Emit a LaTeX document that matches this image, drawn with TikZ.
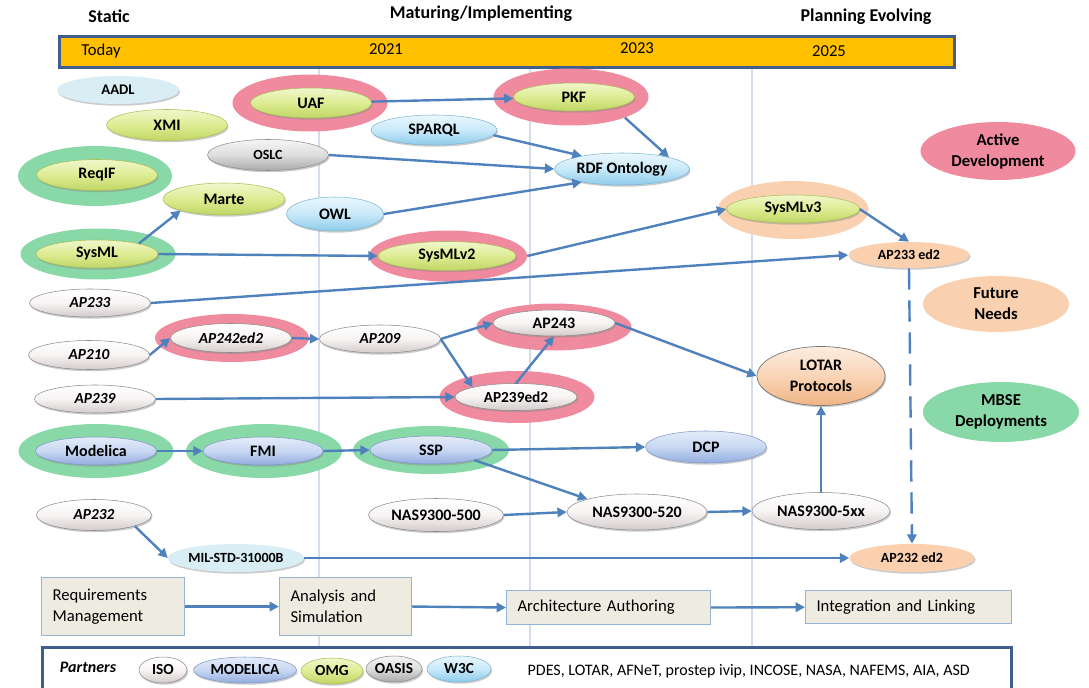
\documentclass[tikz,border=0pt]{standalone}
\usepackage{fontspec}
\setmainfont{Carlito}
\usetikzlibrary{shapes.geometric,arrows.meta,shadows}
\definecolor{arrowblue}{HTML}{4F81BD}
\definecolor{barfill}{HTML}{FFC000}
\definecolor{frameblue}{HTML}{3F5E8E}
\definecolor{gridc}{HTML}{D5DDEC}
\definecolor{pinkH}{HTML}{F08A9E}
\definecolor{greenH}{HTML}{88D8A8}
\definecolor{peachH}{HTML}{F9D1B1}
\definecolor{ygT}{HTML}{F0F7CC}
\definecolor{ygM}{HTML}{DDEC92}
\definecolor{ygB}{HTML}{C0D665}
\definecolor{blT}{HTML}{E4ECF9}
\definecolor{blM}{HTML}{C8D7F2}
\definecolor{blB}{HTML}{93ACDF}
\definecolor{lbT}{HTML}{EAF7FD}
\definecolor{lbM}{HTML}{C8E9F9}
\definecolor{lbB}{HTML}{8DCBEA}
\definecolor{grT}{HTML}{F5F5F5}
\definecolor{grM}{HTML}{DDDDDD}
\definecolor{grB}{HTML}{A9A9A9}
\definecolor{whT}{HTML}{FFFFFF}
\definecolor{whM}{HTML}{F7F3F3}
\definecolor{whB}{HTML}{D3CBCB}
\definecolor{peT}{HTML}{FDEDE0}
\definecolor{peM}{HTML}{F9D4B6}
\definecolor{peB}{HTML}{EFB585}
\definecolor{flatblue}{HTML}{D8EDF4}
\definecolor{flatpeach}{HTML}{FAD0AF}
\definecolor{boxfill}{HTML}{EEECE1}
\definecolor{boxline}{HTML}{95B3D7}
\definecolor{ygD}{HTML}{A9BF55}
\definecolor{blD}{HTML}{7F98C8}
\definecolor{lbD}{HTML}{7DB5D3}
\definecolor{grD}{HTML}{8C8C8C}
\newlength\px
\setlength\px{0.75pt}
\newcommand\fB{\bfseries\fontsize{12}{12}\selectfont}
\newcommand\fS{\bfseries\fontsize{10.5}{10.5}\selectfont}
\newcommand\fM{\bfseries\fontsize{11.5}{11.5}\selectfont}
\newcommand\fE{\bfseries\fontsize{11}{11}\selectfont}
\newcommand\fAp{\bfseries\itshape\fontsize{11.5}{11.5}\selectfont}
\newcommand\fL{\bfseries\fontsize{12.5}{15.75}\selectfont}
\newcommand\fLo{\bfseries\fontsize{12}{15.5}\selectfont}
\newcommand\fStage{\fontsize{12.5}{15.75}\selectfont}
\newcommand\fTitle{\bfseries\fontsize{13.5}{13.5}\selectfont}
\newcommand\fBar{\fontsize{12.5}{12.5}\selectfont}
\newcommand\fPart{\bfseries\itshape\fontsize{12}{12}\selectfont}
\newcommand\fList{\fontsize{12}{12}\selectfont}
\tikzset{
  base/.style={ellipse, inner sep=0pt, align=center, font=\fB},
  shad/.style={drop shadow={shadow xshift=0.8pt, shadow yshift=-1.3pt, fill=black!45, opacity=0.45}},
  halo/.style={ellipse, inner sep=0pt, draw=none},
  yg/.style={base, shad, top color=ygT, bottom color=ygB, middle color=ygM, draw=ygD, line width=0.4pt},
  bl/.style={base, shad, top color=blT, bottom color=blB, middle color=blM, draw=blD, line width=0.4pt},
  lb/.style={base, shad, top color=lbT, bottom color=lbB, middle color=lbM, draw=lbD, line width=0.4pt},
  gr/.style={base, shad, top color=grT, bottom color=grB, middle color=grM, draw=grD, line width=0.4pt},
  wh/.style={base, shad, top color=whT, bottom color=whB, middle color=whM, draw=black!45, line width=0.4pt},
  pe/.style={base, shad, top color=peT, bottom color=peB, middle color=peM, draw=black!55, line width=0.5pt},
  fb/.style={base, shad, fill=flatblue, draw=none},
  fp/.style={base, shad, fill=flatpeach, draw=none},
  arr/.style={draw=arrowblue, line width=1.8pt, -{Triangle[length=7pt,width=7pt]}},
  stage/.style={rectangle, fill=boxfill, draw=boxline, line width=0.8pt, align=left, inner xsep=8.25pt, inner ysep=0pt, font=\fStage, anchor=north west},
  legendell/.style={ellipse, inner sep=0pt, align=center, font=\fL}
}
\begin{document}
\begin{tikzpicture}[x=0.75pt,y=-0.75pt]
\useasboundingbox (0,0) rectangle (1089,688);
% grid lines
\draw[gridc, line width=0.8pt] (319,67) -- (319,646);
\draw[gridc, line width=0.8pt] (530,67) -- (530,646);
\draw[gridc, line width=0.8pt] (752,67) -- (752,646);
% titles
\node[font=\fTitle] (tStatic) at (109,16) {Static};
\node[font=\fTitle] (tMat) at (481,14) {Maturing/Implementing};
\node[font=\fTitle] (tPlan) at (866,17) {Planning Evolving};
% time bar
\node[rectangle, fill=barfill, draw=frameblue, line width=2.2pt, minimum width=895\px, minimum height=31\px, anchor=north west] (bar) at (58,35) {};
\node[font=\fBar] (today) at (101,51) {Today};
\node[font=\fBar] (y21) at (386,49) {2021};
\node[font=\fBar] (y23) at (637,48) {2023};
\node[font=\fBar] (y25) at (829,51) {2025};
% halos
\node[halo, fill=pinkH, minimum width=155\px, minimum height=57\px] (uafH) at (310,103) {};
\node[halo, fill=pinkH, minimum width=155\px, minimum height=57\px] (pkfH) at (571,97) {};
\node[halo, fill=greenH, minimum width=154\px, minimum height=60\px] (reqifH) at (95,176) {};
\node[halo, fill=greenH, minimum width=155\px, minimum height=51\px] (sysmlH) at (98,254) {};
\node[halo, fill=pinkH, minimum width=158\px, minimum height=51\px] (v2H) at (448,256) {};
\node[halo, fill=peachH, minimum width=151\px, minimum height=58\px] (v3H) at (793,210) {};
\node[halo, fill=pinkH, minimum width=154\px, minimum height=48\px] (ap242H) at (232,338) {};
\node[halo, fill=pinkH, minimum width=155\px, minimum height=47\px] (ap243H) at (554,327) {};
\node[halo, fill=pinkH, minimum width=155\px, minimum height=52\px] (ap239eH) at (517,397) {};
\node[halo, fill=greenH, minimum width=155\px, minimum height=54\px] (modH) at (96,451) {};
\node[halo, fill=greenH, minimum width=156\px, minimum height=54\px] (fmiH) at (264,451) {};
\node[halo, fill=greenH, minimum width=156\px, minimum height=48\px] (sspH) at (431,450) {};
% nodes
\node[fb, minimum width=122\px, minimum height=28\px, font=\fE] (aadl) at (118,90) {AADL};
\node[yg, minimum width=121\px, minimum height=31\px] (xmi) at (167,125) {XMI};
\node[yg, minimum width=121\px, minimum height=30\px] (uaf) at (311,103) {UAF};
\node[yg, minimum width=121\px, minimum height=28\px] (pkf) at (574,97) {PKF};
\node[lb, minimum width=126\px, minimum height=30\px] (sparql) at (434,130) {SPARQL};
\node[gr, minimum width=121\px, minimum height=31\px, font=\fS] (oslc) at (268,155) {OSLC};
\node[yg, minimum width=121\px, minimum height=31\px] (reqif) at (97,175) {ReqIF};
\node[yg, minimum width=122\px, minimum height=32\px] (marte) at (224,199) {Marte};
\node[lb, minimum width=97\px, minimum height=34\px] (owl) at (335,214) {OWL};
\node[lb, minimum width=135\px, minimum height=32\px] (rdf) at (622,169) {RDF Ontology};
\node[yg, minimum width=122\px, minimum height=28\px] (sysml) at (97,254) {SysML};
\node[yg, minimum width=138\px, minimum height=29\px] (v2) at (447,256) {SysMLv2};
\node[yg, minimum width=133\px, minimum height=28\px] (v3) at (793,209) {SysMLv3};
\node[fp, minimum width=121\px, minimum height=26\px, font=\fS] (ap233ed2) at (909,255) {AP233 ed2};
\node[wh, minimum width=121\px, minimum height=28\px, font=\fAp] (ap233) at (90,303) {AP233};
\node[wh, minimum width=121\px, minimum height=29\px, font=\fAp] (ap210) at (89,355) {AP210};
\node[wh, minimum width=121\px, minimum height=29\px, font=\fAp] (ap242) at (231,338) {AP242ed2};
\node[wh, minimum width=121\px, minimum height=28\px, font=\fAp] (ap209) at (380,339) {AP209};
\node[wh, minimum width=121\px, minimum height=28\px, font=\fAp] (ap239) at (95,399) {AP239};
\node[wh, minimum width=122\px, minimum height=26\px] (ap243) at (554,323) {AP243};
\node[wh, minimum width=122\px, minimum height=27\px, font=\fM] (ap239e) at (516,397) {AP239ed2};
\node[pe, minimum width=128\px, minimum height=59\px, font=\fLo] (lotar) at (821,376) {LOTAR\\Protocols};
\node[bl, minimum width=121\px, minimum height=28\px] (modelica) at (96,451) {Modelica};
\node[bl, minimum width=120\px, minimum height=28\px] (fmi) at (263,451) {FMI};
\node[bl, minimum width=122\px, minimum height=28\px] (ssp) at (431,450) {SSP};
\node[bl, minimum width=121\px, minimum height=32\px] (dcp) at (706,447) {DCP};
\node[wh, minimum width=135\px, minimum height=33\px] (nas500) at (436,515) {NAS9300-500};
\node[wh, minimum width=140\px, minimum height=36\px] (nas520) at (637,512) {NAS9300-520};
\node[wh, minimum width=138\px, minimum height=37\px] (nas5xx) at (821,511) {NAS9300-5xx};
\node[wh, minimum width=115\px, minimum height=31\px, font=\fAp] (ap232) at (94,515) {AP232};
\node[fb, minimum width=136\px, minimum height=28\px, font=\fS] (mil) at (236,558) {MIL-STD-31000B};
\node[fp, minimum width=125\px, minimum height=28\px, font=\fS] (ap232ed2) at (912,558) {AP232 ed2};
% legend
\node[legendell, fill=pinkH, minimum width=155\px, minimum height=58\px] (active) at (998,151) {Active\\Development};
\node[legendell, fill=peachH, minimum width=146\px, minimum height=56\px] (future) at (996,304) {Future\\Needs};
\node[legendell, fill=greenH, minimum width=156\px, minimum height=60\px] (mbse) at (1001,412) {MBSE\\Deployments};
% connectors
\draw[arr] (uaf) -- (pkf);
\draw[arr] (pkfH.-21) -- (rdf.14);
\draw[arr] (sparql.-5) -- (rdf.162);
\draw[arr] (oslc.east) -- (rdf.west);
\draw[arr] (owl.east) -- (rdf.198);
\draw[arr] (sysml.14) -- (marte.south west);
\draw[arr] (sysml.east) -- (v2.west);
\draw[arr] (v2H.east) -- (v3.west);
\draw[arr] (v3.east) -- (ap233ed2.north);
\draw[arr] (ap233.east) -- (ap233ed2.west);
\draw[draw=arrowblue, line width=1.8pt, dash pattern=on 16pt off 8pt, -{Triangle[length=7pt,width=7pt]}] (ap233ed2.south) -- (ap232ed2.north);
\draw[arr] (ap210.east) -- (ap242.west);
\draw[arr] (ap242.east) -- (ap209.west);
\draw[arr] (ap209.east) -- (ap243.west);
\draw[arr] (ap209.east) -- (ap239e.north west);
\draw[arr] (ap239e.north) -- (ap243.south);
\draw[arr] (ap243.east) -- (lotar.west);
\draw[arr] (ap239.east) -- (ap239e.west);
\draw[arr] (modelica.east) -- (fmi.west);
\draw[arr] (fmi.east) -- (ssp.west);
\draw[arr] (ssp.east) -- (dcp.west);
\draw[arr] (ssp.south east) -- (nas520.north west);
\draw[arr] (nas500.east) -- (nas520.west);
\draw[arr] (nas520.east) -- (nas5xx.west);
\draw[arr] (nas5xx.north) -- (lotar.south);
\draw[arr] (ap232.south east) -- (mil.west);
\draw[arr] (mil.east) -- (ap232ed2.west);
% stages
\node[stage, text width=90.75pt, minimum height=43.5pt] (req) at (41,577) {Requirements\\Management};
\node[stage, text width=82.5pt, minimum height=43.5pt] (ana) at (279,577) {Analysis and\\Simulation};
\node[stage, text width=136.5pt, minimum height=25.5pt] (arch) at (506,590) {Architecture Authoring};
\node[stage, text width=138pt, minimum height=25pt] (integ) at (805,590) {Integration and Linking};
\draw[arr] (req.east) -- (ana.west);
\draw[arr] (ana.east) -- (arch.west);
\draw[arr] (arch.east) -- (integ.west);
% partners
\node[rectangle, fill=white, draw=frameblue, line width=2.2pt, minimum width=969\px, minimum height=46\px, anchor=north west] (pbox) at (41,646) {};
\node[font=\fPart] (partners) at (88,667) {Partners};
\node[wh, minimum width=48\px, minimum height=26\px, font=\fM] (iso) at (163,670) {ISO};
\node[bl, minimum width=103\px, minimum height=26\px, font=\fM] (pmod) at (245,670) {MODELICA};
\node[yg, minimum width=62\px, minimum height=26\px, font=\fM] (omg) at (332,671) {OMG};
\node[gr, minimum width=56\px, minimum height=26\px, font=\fM] (oasis) at (394,669) {OASIS};
\node[lb, minimum width=64\px, minimum height=26\px, font=\fM] (w3c) at (459,669) {W3C};
\node[font=\fList, anchor=west] (plist) at (523,671) {PDES, LOTAR, AFNeT, prostep ivip, INCOSE, NASA, NAFEMS, AIA, ASD};
\end{tikzpicture}
\end{document}
